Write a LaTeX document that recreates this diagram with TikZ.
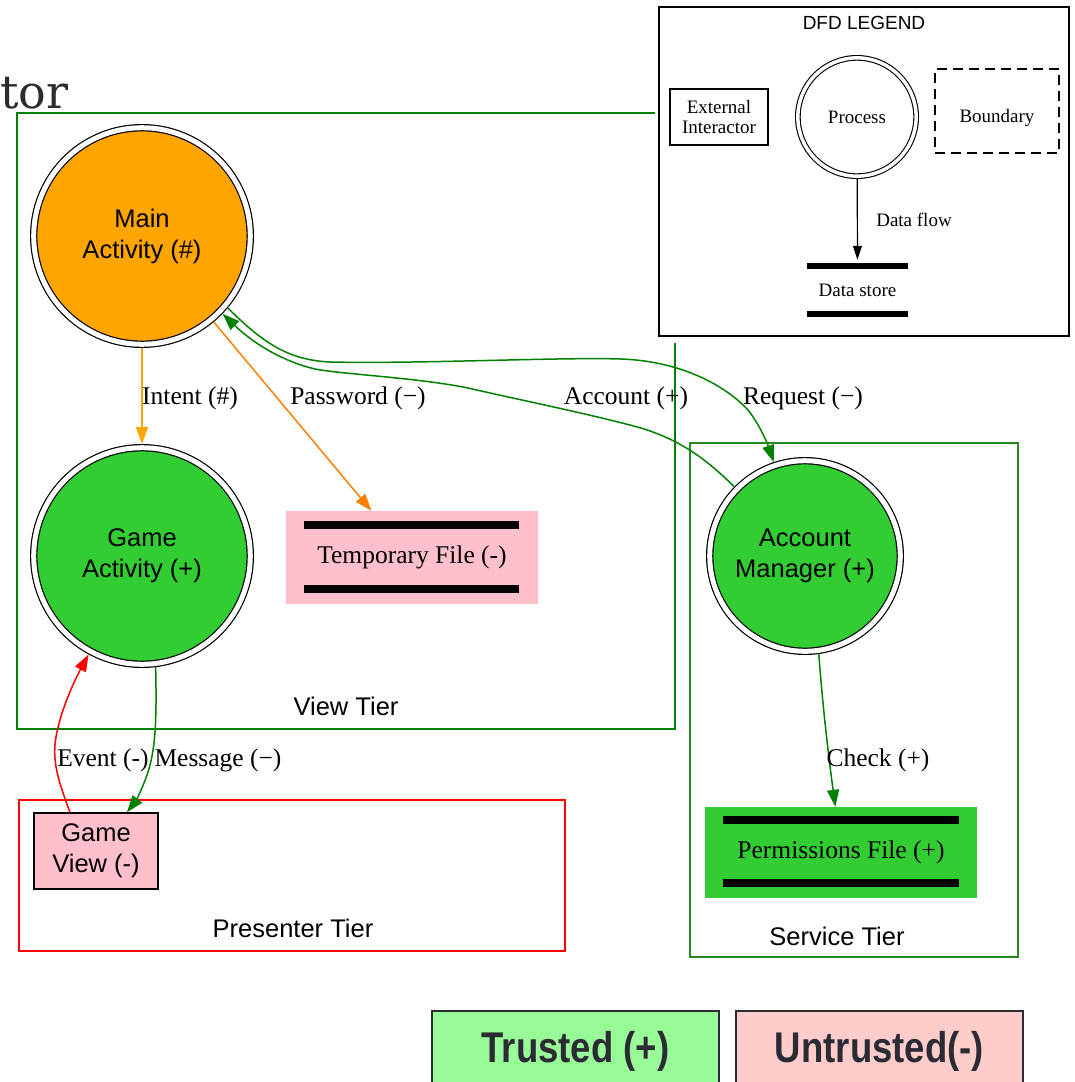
\documentclass[tikz,border=0pt]{standalone}
\usepackage{fontspec}
\setmainfont{Liberation Serif}
\setsansfont{Liberation Sans}
\newfontfamily\cornerfont{DejaVu Serif}
\newfontfamily\keyfont{Liberation Sans}[FakeStretch=0.85]
\usetikzlibrary{arrows.meta,calc}
\definecolor{tiergreen}{RGB}{0,128,0}
\definecolor{servgreen}{RGB}{34,139,34}
\definecolor{procorange}{RGB}{255,165,0}
\definecolor{floworange}{RGB}{255,127,0}
\definecolor{limeg}{RGB}{50,205,50}
\definecolor{untrustpink}{RGB}{255,192,203}
\definecolor{keygreen}{RGB}{152,251,152}
\definecolor{keypink}{RGB}{255,204,204}
\definecolor{inkgray}{RGB}{43,43,51}

\begin{document}
\begin{tikzpicture}[x=1pt,y=-1pt,
  big/.style={font=\sffamily\fontsize{25.5}{31}\selectfont},
  lbl/.style={font=\rmfamily\fontsize{25.5}{30}\selectfont, inner sep=0pt},
  small/.style={font=\rmfamily\fontsize{19}{22}\selectfont},
  proc/.style={circle, draw=black, double=white, double distance=5pt, line width=1.2pt,
    inner sep=0pt, outer sep=3.7pt, align=center, big},
  tier/.style={draw, line width=1.3pt},
  store/.style={rectangle, inner sep=0pt, font=\rmfamily\fontsize{25.5}{30}\selectfont},
  storebar/.style={line width=8pt},
  flow/.style={line width=1.5pt, -{Triangle[length=17pt,width=12pt]}},
  keybox/.style={draw=inkgray, line width=2pt, minimum width=287, minimum height=80,
    inner sep=0pt, text=inkgray, font=\keyfont\bfseries\fontsize{43}{50}\selectfont},
]
\useasboundingbox (0,0) rectangle (1075,1082);

% partial heading in the corner
\node[anchor=base west, inner sep=0pt, text=inkgray,
  font=\cornerfont\fontsize{46}{50}\selectfont] (corner) at (0,108) {tor};

% trust boundaries
\draw[tier, tiergreen] (17,113) rectangle (675,729);
\node[big] (viewlbl) at (346,706) {View Tier};
\draw[tier, servgreen] (690,443) rectangle (1018,957);
\node[big] (servlbl) at (837,936) {Service Tier};
\draw[tier, red] (19,800) rectangle (565,951);
\node[big] (preslbl) at (293,928) {Presenter Tier};

% DFD legend
\fill[white] (655,2) rectangle (1073,343);
\draw[line width=1.5pt] (659,7) rectangle (1069,336);
\node[font=\sffamily\fontsize{19}{22}\selectfont] (legtitle) at (864,23) {DFD LEGEND};
\node[draw, line width=1.5pt, minimum width=98, minimum height=56, inner sep=0pt,
  align=center, small] (legext) at (719,117) {External\\[-2pt]Interactor};
\node[circle, draw, double=white, double distance=3.5pt, line width=1.1pt,
  minimum size=118.3, inner sep=0pt, outer sep=2.85pt, small] (legproc) at (857,117) {Process};
\node[draw, dash pattern=on 10pt off 6pt, line width=1.5pt, minimum width=124,
  minimum height=84, inner sep=0pt] (legbound) at (997,111) {};
\node[small] (legboundtxt) at (997,118) {Boundary};
\node[minimum width=101, minimum height=48, inner sep=0pt, small] (legstore) at (857.5,290) {Data store};
\draw[line width=6pt] (legstore.north west) -- (legstore.north east);
\draw[line width=6pt] (legstore.south west) -- (legstore.south east);
\draw[line width=1.2pt, -{Triangle[length=14pt,width=9pt]}, shorten >=6pt] (legproc) -- (legstore.north);
\node[small] (legflow) at (914,220) {Data flow};

% processes
\node[proc, fill=procorange, minimum size=216.6] (main) at (142,236) {Main\\Activity (\#)};
\node[proc, fill=limeg, minimum size=216.6] (game) at (142,556) {Game\\Activity (+)};
\node[proc, fill=limeg, minimum size=190.6] (acct) at (805,556) {Account\\Manager (+)};

% data stores
\node[store, fill=untrustpink, minimum width=252, minimum height=93] (tmpf) at (412,557.5) {Temporary File (-)};
\draw[storebar] ([xshift=18pt,yshift=-14pt]tmpf.north west) -- ([xshift=-19pt,yshift=-14pt]tmpf.north east);
\draw[storebar] ([xshift=18pt,yshift=15pt]tmpf.south west) -- ([xshift=-19pt,yshift=15pt]tmpf.south east);
\node[store, fill=limeg, minimum width=272, minimum height=91] (perm) at (841,852.5) {Permissions File (+)};
\draw[storebar] ([xshift=18pt,yshift=-13pt]perm.north west) -- ([xshift=-18pt,yshift=-13pt]perm.north east);
\draw[storebar] ([xshift=18pt,yshift=15pt]perm.south west) -- ([xshift=-18pt,yshift=15pt]perm.south east);

% external interactor
\node[draw, line width=1.5pt, fill=untrustpink, minimum width=124, minimum height=76,
  inner sep=0pt, align=center, big] (gview) at (96,851) {Game\\View (-)};

% data flows
\draw[flow, procorange] (main) -- (game);
\draw[flow, floworange] (main) -- (tmpf.131);
\draw[flow, tiergreen] (acct) .. controls (705,458) and (680,440) .. (641,428)
  .. controls (590,414) and (520,400) .. (468,388)
  .. controls (420,378) and (340,374) .. (315,369)
  .. controls (285,362) and (255,345) .. (main);
\draw[flow, tiergreen] (main.-40) .. controls (265,345) and (290,360) .. (330,362)
  .. controls (420,364) and (560,357) .. (621,359)
  .. controls (680,361) and (725,385) .. (748,410)
  .. controls (760,425) and (768,445) .. (acct);
\draw[flow, tiergreen] (acct.-82) .. controls (823,710) and (829,760) .. (perm.97);
\draw[flow, red] (gview.124) .. controls (62,790) and (53,768) .. (55,745)
  .. controls (57,720) and (72,685) .. (game);
\draw[flow, tiergreen] (game.-83) .. controls (157,725) and (155,752) .. (147,775)
  .. controls (141,792) and (135,802) .. (gview);

% flow labels
\node[lbl] (lintent) at (190,398) {Intent (\#)};
\node[lbl] (lpass) at (358,398) {Password (−)};
\node[lbl] (lacct) at (626,398) {Account (+)};
\node[lbl] (lreq) at (803,398) {Request (−)};
\node[lbl] (levent) at (103,760) {Event (-)};
\node[lbl] (lmsg) at (218,760) {Message (−)};
\node[lbl] (lcheck) at (878,760) {Check (+)};

% trust key
\node[keybox, fill=keygreen, anchor=north west] (ktrust) at (431,1010) {Trusted (+)};
\node[keybox, fill=keypink, anchor=north west] (kuntrust) at (735,1010) {Untrusted(-)};
\end{tikzpicture}
\end{document}
